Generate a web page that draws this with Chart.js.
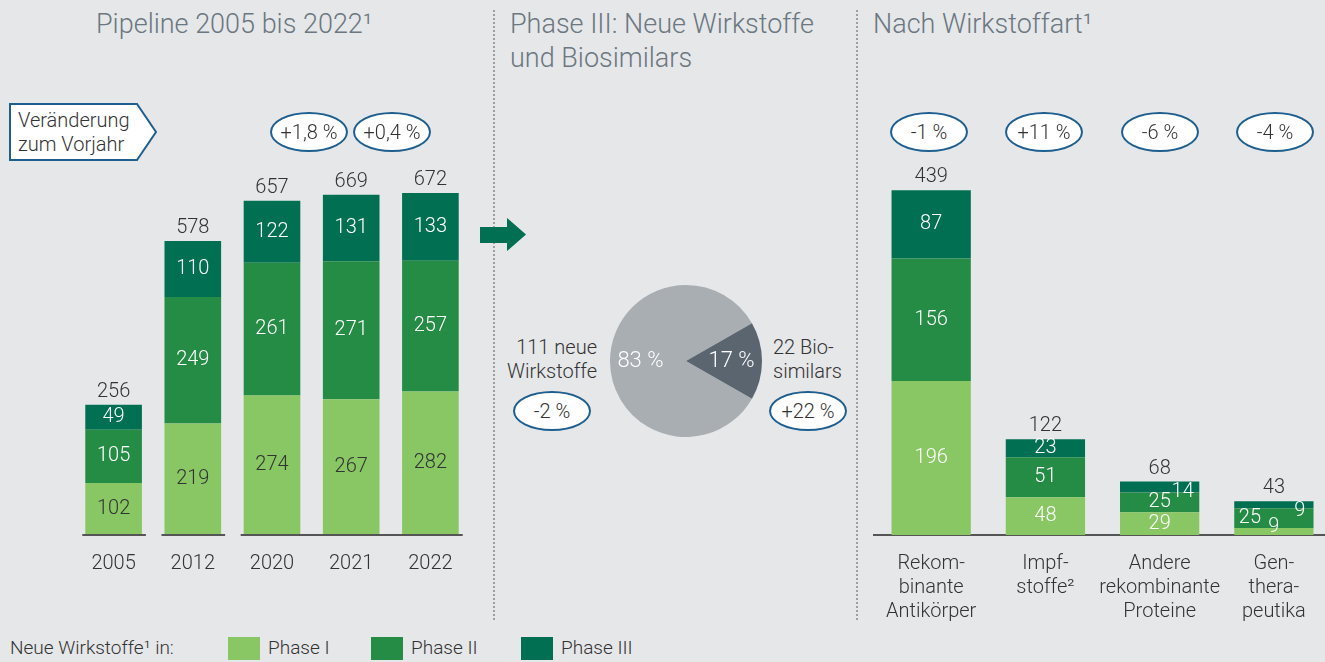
<!DOCTYPE html>
<html>
<head>
<meta charset="utf-8">
<script src="https://cdn.jsdelivr.net/npm/chart.js@4.4.0/dist/chart.umd.min.js"></script>
<style>
  html, body { margin: 0; padding: 0; }
  body {
    width: 1325px; height: 662px; overflow: hidden; position: relative;
    background: #e6e7e9; font-family: Roboto, "Noto Sans", sans-serif; font-weight: 300; color: #333;
  }
  canvas { position: absolute; }
  .title { position: absolute; font-size: 27px; font-weight: 300; color: #6b7781; line-height: 34px; white-space: nowrap; }
  .sep { position: absolute; top: 10px; height: 610px; border-left: 2px dotted #9aa0a6; }
  .oval {
    position: absolute; width: 74px; height: 36px; border: 2px solid #1f5f8f; border-radius: 50%;
    background: #fff; font-size: 20px; line-height: 36px; text-align: center; color: #333;
  }
  .txt { position: absolute; font-size: 20px; line-height: 24px; white-space: nowrap; color: #333; }
  .sw { position: absolute; top: 637px; width: 32px; height: 23px; }
  .lg { position: absolute; top: 636px; font-size: 19px; line-height: 24px; color: #333; white-space: nowrap; }
</style>
</head>
<body>

<div class="title" style="left:96px;top:7px;">Pipeline 2005 bis 2022¹</div>
<div class="title" style="left:510px;top:7px;">Phase III: Neue Wirkstoffe<br>und Biosimilars</div>
<div class="title" style="left:873px;top:7px;">Nach Wirkstoffart¹</div>

<div class="sep" style="left:493px;"></div>
<div class="sep" style="left:856px;"></div>

<svg style="position:absolute;left:0;top:0;" width="530" height="260">
  <polygon points="10,104 137,104 156,132 137,160 10,160" fill="#fff" stroke="#1f5f8f" stroke-width="2"/>
  <polygon points="480,227 507,227 507,218 526,234.5 507,251 507,243 480,243" fill="#006f52"/>
</svg>
<div class="txt" style="left:18px;top:108px;">Veränderung<br>zum Vorjahr</div>

<canvas id="pipeline" width="396" height="493" style="left:74px;top:100px;"></canvas>
<canvas id="phase3" width="152" height="152" style="left:610px;top:285px;"></canvas>
<canvas id="types" width="462" height="541" style="left:869px;top:100px;"></canvas>

<div class="txt" style="right:728px;top:335px;text-align:right;">111 neue<br>Wirkstoffe</div>
<div class="txt" style="left:773px;top:335px;">22 Bio-<br>similars</div>

<div id="ovals"></div>

<div class="lg" style="left:10px;">Neue Wirkstoffe¹ in:</div>
<div class="sw" style="left:228px;background:#88c764;"></div>
<div class="lg" style="left:268px;">Phase I</div>
<div class="sw" style="left:371px;background:#258c46;"></div>
<div class="lg" style="left:411px;">Phase II</div>
<div class="sw" style="left:521px;background:#006f52;"></div>
<div class="lg" style="left:561px;">Phase III</div>

<script>
// Pipeline 2005 bis 2022
const years = ['2005', '2012', '2020', '2021', '2022'];
const pipePhase1 = [102, 219, 274, 267, 282];
const pipePhase2 = [105, 249, 261, 271, 257];
const pipePhase3 = [49, 110, 122, 131, 133];
const pipeChanges = ['', '', '', '+1,8 %', '+0,4 %'];

// Phase III: neue Wirkstoffe vs. Biosimilars
const phase3Labels = ['111 neue Wirkstoffe', '22 Biosimilars'];
const phase3Counts = [111, 22];
const phase3Changes = ['-2 %', '+22 %'];

// Nach Wirkstoffart
const types = [['Rekom-', 'binante', 'Antikörper'], ['Impf-', 'stoffe²'], ['Andere', 'rekombinante', 'Proteine'], ['Gen-', 'thera-', 'peutika']];
const typePhase1 = [196, 48, 29, 9];
const typePhase2 = [156, 51, 25, 25];
const typePhase3 = [87, 23, 14, 9];
const typeChanges = ['-1 %', '+11 %', '-6 %', '-4 %'];

const GREEN1 = '#88c764', GREEN2 = '#258c46', GREEN3 = '#006f52';
const FONT = 'Roboto, "Noto Sans", sans-serif';

// small segments in the right chart get their label nudged aside
const typeLabelShift = { '2,2': [23, 5], '1,3': [-24, 0], '0,3': [0, -4], '2,3': [26, 6] };

function barLabels(opts) {
    return {
        id: 'barLabels',
        afterDatasetsDraw(chart) {
            const ctx = chart.ctx;
            ctx.save();
            ctx.font = '300 20px ' + FONT;
            ctx.textAlign = 'center';
            ctx.textBaseline = 'middle';
            const n = chart.data.labels.length;
            chart.data.datasets.forEach((ds, di) => {
                const meta = chart.getDatasetMeta(di);
                meta.data.forEach((bar, i) => {
                    const shift = (opts.shift && opts.shift[di + ',' + i]) || [0, 0];
                    ctx.fillStyle = opts.colors[di];
                    ctx.fillText(ds.data[i], bar.x + shift[0], (bar.y + bar.base) / 2 + shift[1]);
                });
            });
            // totals above each stack
            const top = chart.getDatasetMeta(chart.data.datasets.length - 1);
            ctx.fillStyle = '#333';
            for (let i = 0; i < n; i++) {
                const total = chart.data.datasets.reduce((s, ds) => s + ds.data[i], 0);
                ctx.fillText(total, top.data[i].x, top.data[i].y - 13);
            }
            ctx.restore();
        }
    };
}

// baseline drawn in pieces under 2005, 2012 and 2020-2022
const axisGroups = [[0, 0], [1, 1], [2, 4]];
const splitAxis = {
    id: 'splitAxis',
    afterDatasetsDraw(chart) {
        const ctx = chart.ctx;
        const meta = chart.getDatasetMeta(0);
        const y = chart.chartArea.bottom;
        ctx.save();
        ctx.strokeStyle = '#555';
        ctx.lineWidth = 2;
        axisGroups.forEach(g => {
            const a = meta.data[g[0]], b = meta.data[g[1]];
            ctx.beginPath();
            ctx.moveTo(a.x - a.width / 2 - 3, y);
            ctx.lineTo(b.x + b.width / 2 + 4, y);
            ctx.stroke();
        });
        ctx.restore();
    }
};

function stackedOptions(max, border) {
    return {
        responsive: false,
        animation: false,
        layout: { padding: 0 },
        plugins: { legend: { display: false }, tooltip: { enabled: false } },
        scales: {
            x: {
                stacked: true,
                grid: { display: false, drawTicks: false },
                border: border,
                ticks: { color: '#333', padding: 17, font: { family: FONT, size: 20, weight: 300, lineHeight: '24px' }, maxRotation: 0, autoSkip: false }
            },
            y: { stacked: true, display: false, min: 0, max: max }
        }
    };
}

new Chart(document.getElementById('pipeline'), {
    type: 'bar',
    data: {
        labels: years,
        datasets: [
            { label: 'Phase I', data: pipePhase1, backgroundColor: GREEN1 },
            { label: 'Phase II', data: pipePhase2, backgroundColor: GREEN2 },
            { label: 'Phase III', data: pipePhase3, backgroundColor: GREEN3 }
        ].map(d => Object.assign(d, { barPercentage: 1, categoryPercentage: 0.715 }))
    },
    options: stackedOptions(855, { display: false }),
    plugins: [barLabels({ colors: ['#333', '#fff', '#fff'] }), splitAxis]
});

const total3 = phase3Counts[0] + phase3Counts[1];
new Chart(document.getElementById('phase3'), {
    type: 'pie',
    data: {
        labels: phase3Labels,
        datasets: [{ data: phase3Counts, backgroundColor: ['#a9aeb3', '#5a6570'], borderWidth: 0 }]
    },
    options: {
        responsive: false,
        animation: false,
        // centre the Biosimilar slice on 3 o'clock
        rotation: 90 - 360 * (1 - phase3Counts[1] / (2 * total3)),
        layout: { padding: 0 },
        plugins: { legend: { display: false }, tooltip: { enabled: false } }
    },
    plugins: [{
        id: 'pieLabels',
        afterDatasetsDraw(chart) {
            const ctx = chart.ctx;
            ctx.save();
            ctx.font = '300 22px ' + FONT;
            ctx.fillStyle = '#fff';
            ctx.textAlign = 'center';
            ctx.textBaseline = 'middle';
            chart.getDatasetMeta(0).data.forEach((arc, i) => {
                const mid = (arc.startAngle + arc.endAngle) / 2;
                const r = arc.outerRadius * 0.6;
                const pct = Math.round(phase3Counts[i] / total3 * 100);
                ctx.fillText(pct + ' %', arc.x + Math.cos(mid) * r, arc.y + Math.sin(mid) * r);
            });
            ctx.restore();
        }
    }]
});

new Chart(document.getElementById('types'), {
    type: 'bar',
    data: {
        labels: types,
        datasets: [
            { label: 'Phase I', data: typePhase1, backgroundColor: GREEN1 },
            { label: 'Phase II', data: typePhase2, backgroundColor: GREEN2 },
            { label: 'Phase III', data: typePhase3, backgroundColor: GREEN3 }
        ].map(d => Object.assign(d, { barPercentage: 1, categoryPercentage: 0.694 }))
    },
    options: stackedOptions(554, { display: true, color: '#555', width: 2 }),
    plugins: [barLabels({ colors: ['#fff', '#fff', '#fff'], shift: typeLabelShift })]
});

// change ovals
const ovalSpots = [
    ...pipeChanges.map((t, i) => ({ t, x: [0, 0, 0, 309, 392][i], y: 132 })),
    ...phase3Changes.map((t, i) => ({ t, x: [552, 808][i], y: 411 })),
    ...typeChanges.map((t, i) => ({ t, x: [929, 1044, 1160, 1275][i], y: 132 }))
];
const holder = document.getElementById('ovals');
ovalSpots.filter(o => o.t).forEach(o => {
    const el = document.createElement('div');
    el.className = 'oval';
    el.textContent = o.t;
    el.style.left = (o.x - 39) + 'px';
    el.style.top = (o.y - 20) + 'px';
    holder.appendChild(el);
});
</script>
</body>
</html>
